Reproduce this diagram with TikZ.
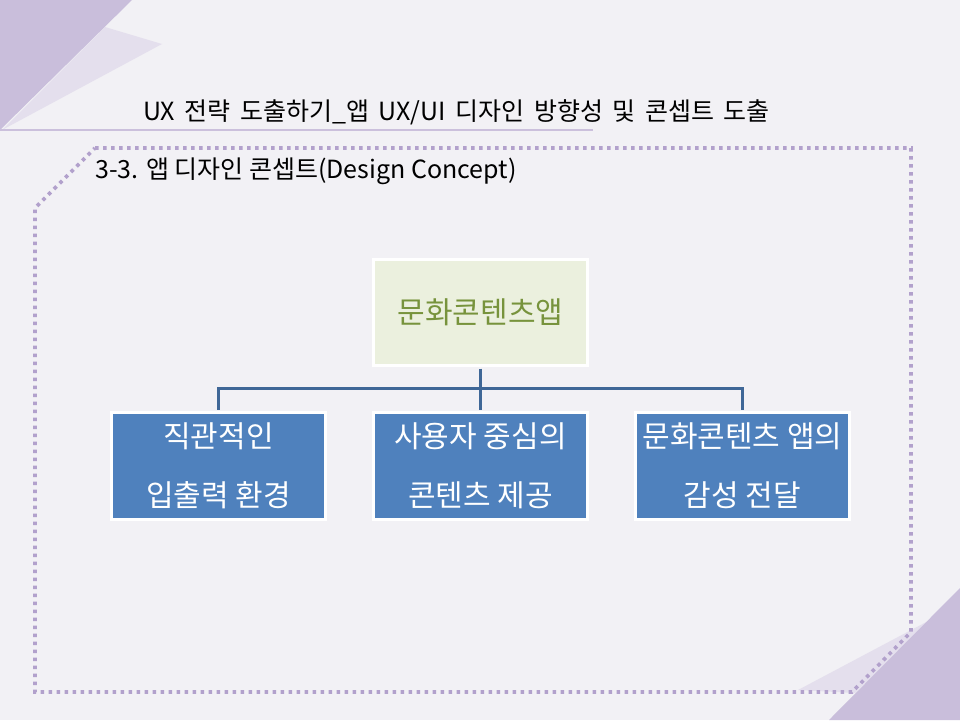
\documentclass[tikz,border=0pt]{standalone}
\usepackage{fontspec}
\setmainfont{Noto Sans CJK KR}
\newfontfamily\titlefont[WordSpace=1.7]{Noto Sans CJK KR}
\definecolor{bg}{HTML}{F2F1F5}
\definecolor{triDark}{HTML}{C9BEDB}
\definecolor{triLight}{HTML}{E4DFED}
\definecolor{rule}{HTML}{CBC0DC}
\definecolor{dots}{HTML}{B2A1CC}
\definecolor{topFill}{HTML}{EBF0DE}
\definecolor{topText}{HTML}{77933C}
\definecolor{childFill}{HTML}{4F81BD}
\definecolor{conn}{HTML}{3F6797}
\tikzset{
  topbox/.style={draw=white, line width=3pt, fill=topFill, minimum width=214pt, minimum height=106pt,
    text=topText, font=\fontsize{30}{34}\selectfont, inner sep=0pt},
  childbox/.style={draw=white, line width=3pt, fill=childFill, minimum width=214pt, minimum height=107pt,
    text=white, font=\fontsize{30}{59}\selectfont, align=center, inner sep=0pt},
  connector/.style={draw=conn, line width=3pt, shorten <=1.5pt, shorten >=1.5pt},
  frame/.style={draw=dots, line width=3.6pt, dash pattern=on 3.6pt off 4.4pt},
  titletext/.style={anchor=west, font=\titlefont\fontsize{25}{28}\selectfont, inner sep=0pt},
  subtext/.style={anchor=west, font=\fontsize{25}{28}\selectfont, inner sep=0pt}
}
\begin{document}
\begin{tikzpicture}[x=1pt, y=-1pt]
\useasboundingbox (0,0) rectangle (960,720);
\fill[bg] (0,0) rectangle (960,720);
% corner decorations
\fill[triLight] (105,27) -- (162,44) -- (2,130) -- cycle;
\fill[triDark] (0,0) -- (132,0) -- (0,130) -- cycle;
\fill[triLight] (855,693) -- (798,690) -- (930,620) -- cycle;
\fill[triDark] (960,588) -- (960,720) -- (829,720) -- cycle;
% title rule
\draw[rule, line width=2pt] (0,130) -- (593,130);
% dotted frame
\draw[frame] (95,148) -- (911,148) -- (911,632) -- (852,692) -- (35,692) -- (35,208) -- cycle;
% texts
\node[titletext] (title) at (143,112) {UX 전략 도출하기\_앱 UX/UI 디자인 방향성 및 콘셉트 도출};
\node[subtext] (sub) at (95,171) {3-3. 앱 디자인 콘셉트(Design Concept)};
% hierarchy
\node[topbox] (top) at (480.5,312.5) {문화콘텐츠앱};
\node[childbox] (c1) at (218.5,466) {직관적인\\입출력 환경};
\node[childbox] (c2) at (480.5,466) {사용자 중심의\\콘텐츠 제공};
\node[childbox] (c3) at (742.5,466) {문화콘텐츠 앱의\\감성 전달};
\coordinate (bus) at (480,388);
\draw[connector] (top.south) -- (c2.north);
\draw[connector] (c1.north) -- (c1.north |- bus) -- (c3.north |- bus) -- (c3.north);
\end{tikzpicture}
\end{document}
